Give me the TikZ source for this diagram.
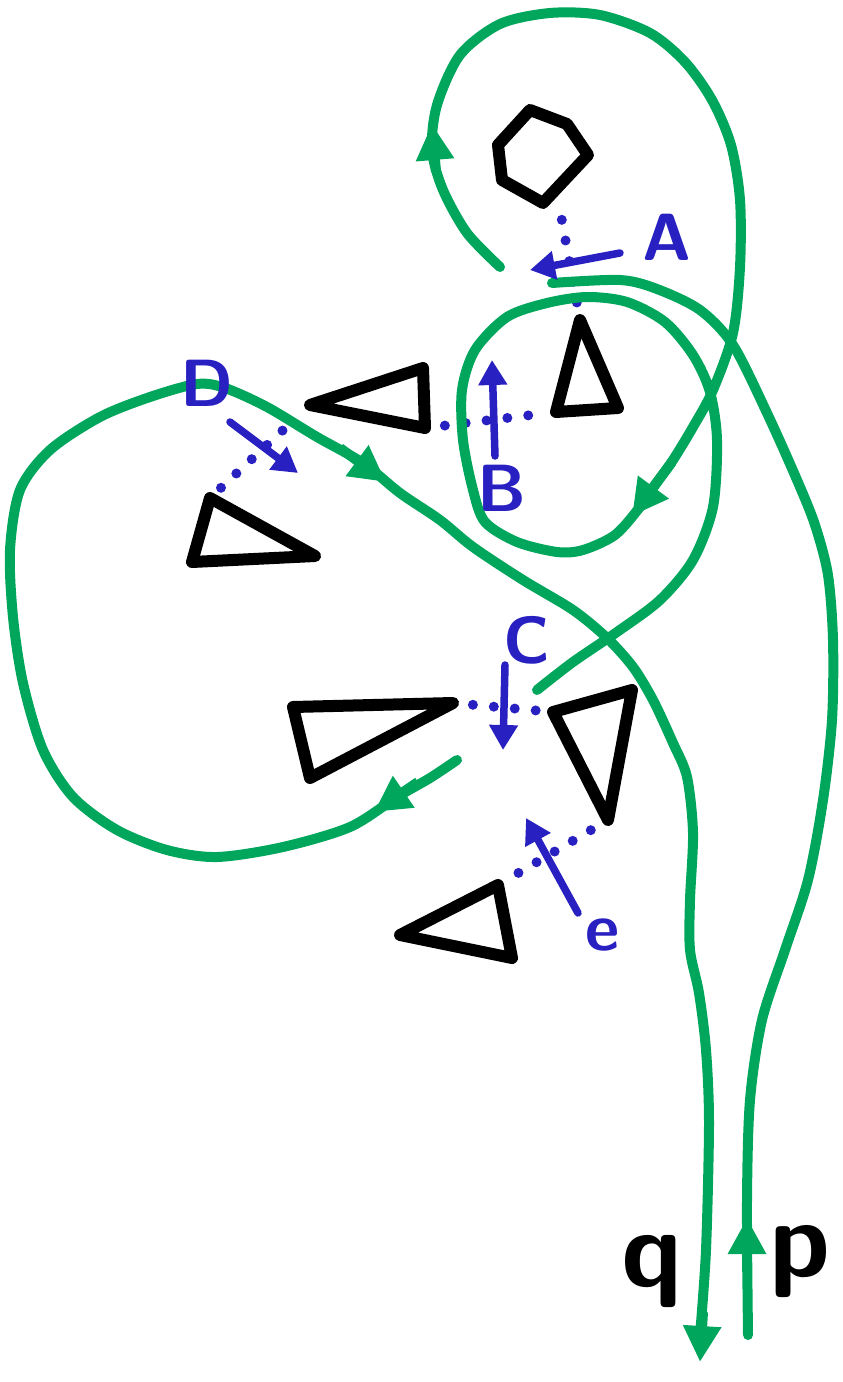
\documentclass[tikz,border=0pt]{standalone}
\usepackage{tikz}
\usetikzlibrary{positioning, arrows.meta}

\definecolor{pengreen}{RGB}{0,166,92}
\definecolor{penblue}{RGB}{40,32,192}

\tikzset{
    fermion/.style={pengreen, line width=0.2cm, line cap=round, line join=round},
    fermarrow/.style={pengreen, line width=0.2cm, -{Triangle[length=0.72cm, width=0.72cm]}},
    blackpoly/.style={draw=black, line width=0.24cm, line join=round, line cap=round},
    exchange/.style={penblue, line width=0.2cm, line cap=round, dash pattern=on 0pt off 0.42cm},
    momentum/.style={penblue, line width=0.15cm, line cap=round, -{Triangle[length=0.5cm, width=0.55cm]}},
    letter/.style={text=penblue, font=\fontsize{38}{40}\selectfont\sffamily\bfseries, inner sep=0pt},
    endletter/.style={text=black, font=\fontsize{62}{62}\selectfont\sffamily\bfseries, inner sep=0pt}
}

\begin{document}
\begin{tikzpicture}[x=0.02cm, y=-0.02cm]
    \useasboundingbox (0,0) rectangle (842,1382);

    % hexagon on top
    \draw[blackpoly] (530,110) -- (567,124) -- (588,155) -- (543,203) -- (502,180) -- (498,145) -- cycle;
    \coordinate (hex) at (560,210);

    % triangles
    \foreach \n/\ax/\ay/\bx/\by/\cx/\cy in {
        tA/580/320/556/412/618/408,
        tB/310/405/423/368/425/428,
        tD/210/498/192/562/315/556,
        tL/293/707/453/703/310/778,
        tR/553/712/632/690/608/820,
        tE/400/935/498/885/512/958}
    {
        \coordinate (\n-1) at (\ax,\ay);
        \coordinate (\n-2) at (\bx,\by);
        \coordinate (\n-3) at (\cx,\cy);
        \draw[blackpoly] (\n-1) -- (\n-2) -- (\n-3) -- cycle;
    }

    % dotted exchanges
    \draw[exchange, shorten <=0.2cm, shorten >=0.2cm] (hex) -- (tA-1);
    \draw[exchange, shorten <=0.4cm, shorten >=0.3cm] (tB-3) -- (tA-2);
    \draw[exchange, shorten <=0.3cm, shorten >=0.4cm] (tD-1) -- (tB-1);
    \draw[exchange, shorten <=0.4cm, shorten >=0.2cm] (tL-2) -- (tR-1);
    \draw[exchange, shorten <=0.4cm, shorten >=0.3cm] (tR-3) -- (tE-2);

    % green lines
    \draw[fermion] plot[smooth] coordinates {(500,267) (467,233) (443,190) (432,150) (437,105)
        (460,55) (500,24) (550,13) (600,15) (650,33) (685,62) (712,100) (731,145) (740,200)
        (740,267) (733,333) (713,390) (693,427) (673,460) (655,485) (640,507) (615,535)
        (583,550) (557,552) (517,542) (485,522) (473,490) (463,440) (462,390) (475,350)
        (507,317) (547,303) (587,297) (627,302) (665,322) (693,355) (710,392) (717,440)
        (713,507) (693,560) (660,600) (617,632) (573,662) (537,690)};
    \draw[fermion] plot[smooth] coordinates {(457,760) (430,778) (397,797) (350,827) (283,847)
        (217,857) (167,850) (117,830) (73,797) (43,750) (23,683) (13,617) (10,550) (20,490)
        (50,450) (100,417) (150,397) (197,384) (225,388) (267,407) (317,437) (363,463)
        (400,493) (440,520) (473,547) (523,580) (573,610) (607,638) (633,667) (653,700)
        (673,743) (687,777) (693,833) (690,900) (690,950) (699,993) (706,1050) (709,1123)
        (706,1250) (700,1335)};
    \draw[fermion] plot[smooth] coordinates {(748,1335) (747,1200) (750,1100) (762,1020)
        (785,950) (808,880) (823,800) (832,720) (833,640) (828,575) (815,525) (797,480)
        (767,413) (733,345) (700,310) (657,289) (620,280) (552,283)};

    % arrow heads on the green lines
    \foreach \sx/\sy/\ex/\ey in {
        436/172/432/124,
        672/462/632/516,
        418/782/374/812,
        340/448/386/482,
        703/1312/700/1362,
        747/1272/747/1218}
    {
        \draw[fermarrow] (\sx,\sy) -- (\ex,\ey);
    }

    % momentum arrows and their letters
    \foreach \n/\sx/\sy/\ex/\ey/\lx/\ly/\tx in {
        A/620/253/530/270/667/237/A,
        B/495/456/492/360/502/488/B,
        C/505/665/503/750/527/640/C,
        D/230/422/298/473/207/383/D,
        E/578/913/526/818/603/935/e}
    {
        \coordinate (k\n-s) at (\sx,\sy);
        \coordinate (k\n-e) at (\ex,\ey);
        \draw[momentum] (k\n-s) -- (k\n-e);
        \node[letter] (lab\n) at (\lx,\ly) {\tx};
    }

    \node[endletter] (q) at (652,1272) {q};
    \node[endletter] (p) at (800,1262) {p};
\end{tikzpicture}
\end{document}
